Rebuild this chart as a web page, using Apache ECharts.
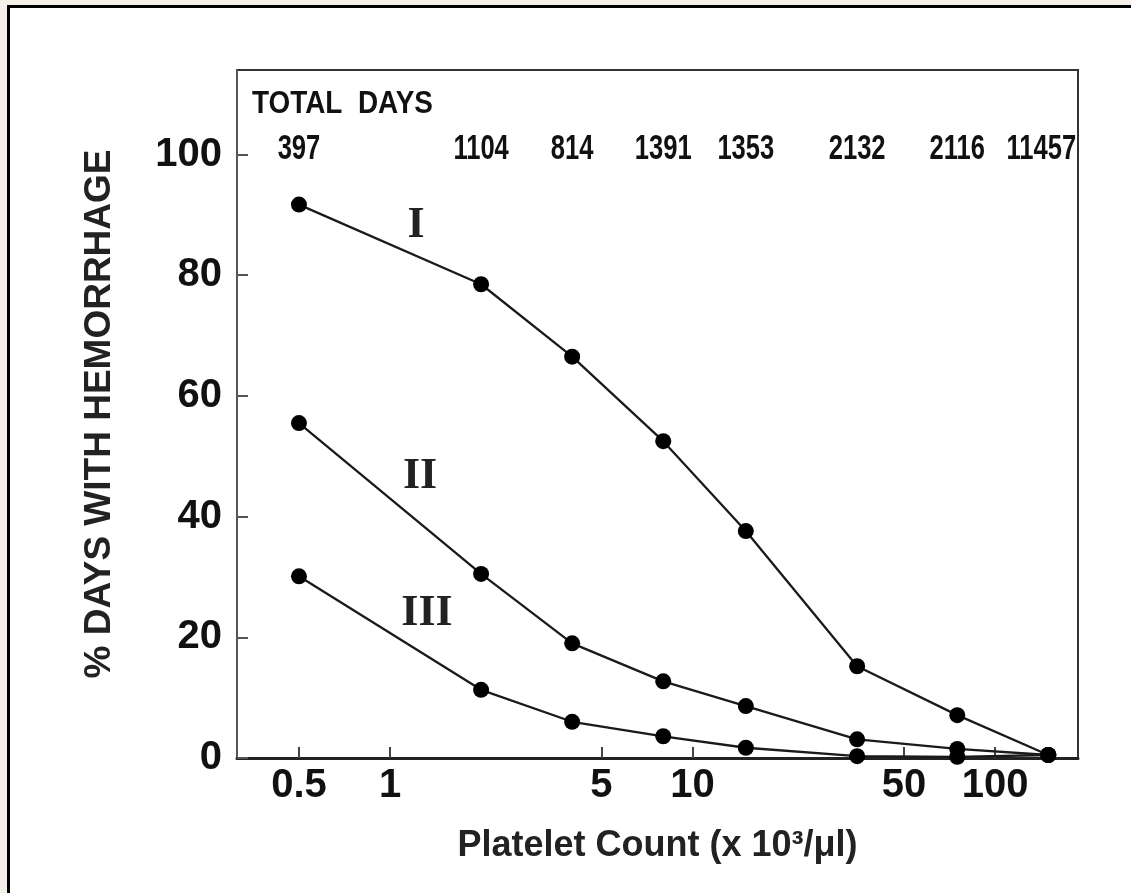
<!DOCTYPE html>
<html><head><meta charset="utf-8">
<script src="https://cdn.jsdelivr.net/npm/echarts@6/dist/echarts.min.js"></script>
<style>
html,body{margin:0;padding:0;background:#f4f0e8;overflow:hidden;width:1131px;height:893px;}
#frame{position:absolute;left:7px;top:5px;width:1140px;height:900px;border:3px solid #000;background:#fff;}
#chart{position:absolute;left:0;top:0;width:1131px;height:893px;}
</style></head><body>
<div id="frame"></div><div id="chart"></div>
<script>
const platelet = [0.5, 2, 4, 8, 15, 35, 75, 150];
const totalDays = [397, 1104, 814, 1391, 1353, 2132, 2116, 11457];
const curveI = [91.7, 78.5, 66.5, 52.5, 37.6, 15.2, 7.1, 0.5];
const curveII = [55.5, 30.5, 19.0, 12.7, 8.6, 3.1, 1.5, 0.5];
const curveIII = [30.1, 11.3, 6.0, 3.6, 1.7, 0.3, 0.2, 0.5];
const xTicks = [0.5, 1, 5, 10, 50, 100];
const yTicks = [0, 20, 40, 60, 80, 100];
const totalDaysRow = 101;
const curveNames = ['I', 'II', 'III'];

const FONT = '"Liberation Sans", Arial, sans-serif';
const ink = '#111';

function lineSeries(name, values) {
  return {
    name: name,
    type: 'line',
    data: platelet.map((x, i) => [x, values[i]]),
    symbol: 'circle',
    symbolSize: 16,
    clip: false,
    lineStyle: { color: '#1a1a1a', width: 2.3 },
    itemStyle: { color: '#000' },
    z: 3
  };
}

const chart = echarts.init(document.getElementById('chart'), null, { renderer: 'canvas' });
chart.setOption({
  backgroundColor: 'transparent',
  animation: false,
  grid: { left: 237, right: 53, top: 70, bottom: 135, show: true, borderColor: '#333', borderWidth: 2, backgroundColor: 'transparent' },
  xAxis: {
    type: 'log', logBase: 10, min: 0.312, max: 188,
    axisLine: { show: true, lineStyle: { color: '#222', width: 3 } },
    axisTick: { show: true, inside: true, length: 11, customValues: xTicks, lineStyle: { color: '#444', width: 2 } },
    minorTick: { show: false },
    axisLabel: { customValues: xTicks, formatter: v => String(+(+v).toPrecision(4)), fontSize: 40, fontWeight: 'bold', color: ink, fontFamily: FONT, margin: 8 },
    splitLine: { show: false },
    name: 'Platelet Count (x 10³/μl)', nameLocation: 'middle', nameGap: 70,
    nameTextStyle: { fontSize: 36, fontWeight: 'bold', color: '#222', fontFamily: FONT }
  },
  yAxis: {
    type: 'value', min: 0, max: 114,
    axisLine: { show: true, lineStyle: { color: '#555', width: 2 } },
    axisTick: { show: true, inside: true, length: 11, customValues: yTicks, lineStyle: { color: '#555', width: 2 } },
    axisLabel: { customValues: yTicks, fontSize: 40, fontWeight: 'bold', color: ink, fontFamily: FONT, margin: 15 },
    splitLine: { show: false },
    name: '% DAYS WITH HEMORRHAGE', nameLocation: 'middle', nameGap: 119,
    nameTextStyle: { fontSize: 37, fontWeight: 'bold', color: '#222', fontFamily: FONT }
  },
  graphic: {
    elements: [
      { type: 'text', x: 252, y: 104, scaleX: 0.9, style: { text: 'TOTAL  DAYS', font: 'bold 31px ' + FONT, fill: ink, verticalAlign: 'middle' } },
      { type: 'text', x: 416, y: 226, style: { text: curveNames[0], font: 'bold 44px "Liberation Serif", serif', fill: '#222', align: 'center', verticalAlign: 'middle' } },
      { type: 'text', x: 420, y: 477, style: { text: curveNames[1], font: 'bold 44px "Liberation Serif", serif', fill: '#222', align: 'center', verticalAlign: 'middle' } },
      { type: 'text', x: 427, y: 614, style: { text: curveNames[2], font: 'bold 44px "Liberation Serif", serif', fill: '#222', align: 'center', verticalAlign: 'middle' } }
    ]
  },
  series: [
    lineSeries(curveNames[0], curveI),
    lineSeries(curveNames[1], curveII),
    lineSeries(curveNames[2], curveIII),
    {
      type: 'custom',
      name: 'TOTAL DAYS',
      clip: false,
      data: platelet.map((x, i) => [x, totalDaysRow, totalDays[i]]),
      renderItem: (params, api) => {
        const p = api.coord([api.value(0), api.value(1)]);
        const shift = params.dataIndex === platelet.length - 1 ? -7 : 0;
        return {
          type: 'text', x: p[0] + shift, y: p[1] + 1, scaleX: 0.73,
          style: { text: String(api.value(2)), font: 'bold 35px ' + FONT, fill: ink, align: 'center', verticalAlign: 'middle' }
        };
      }
    }
  ]
});
</script>
</body></html>
